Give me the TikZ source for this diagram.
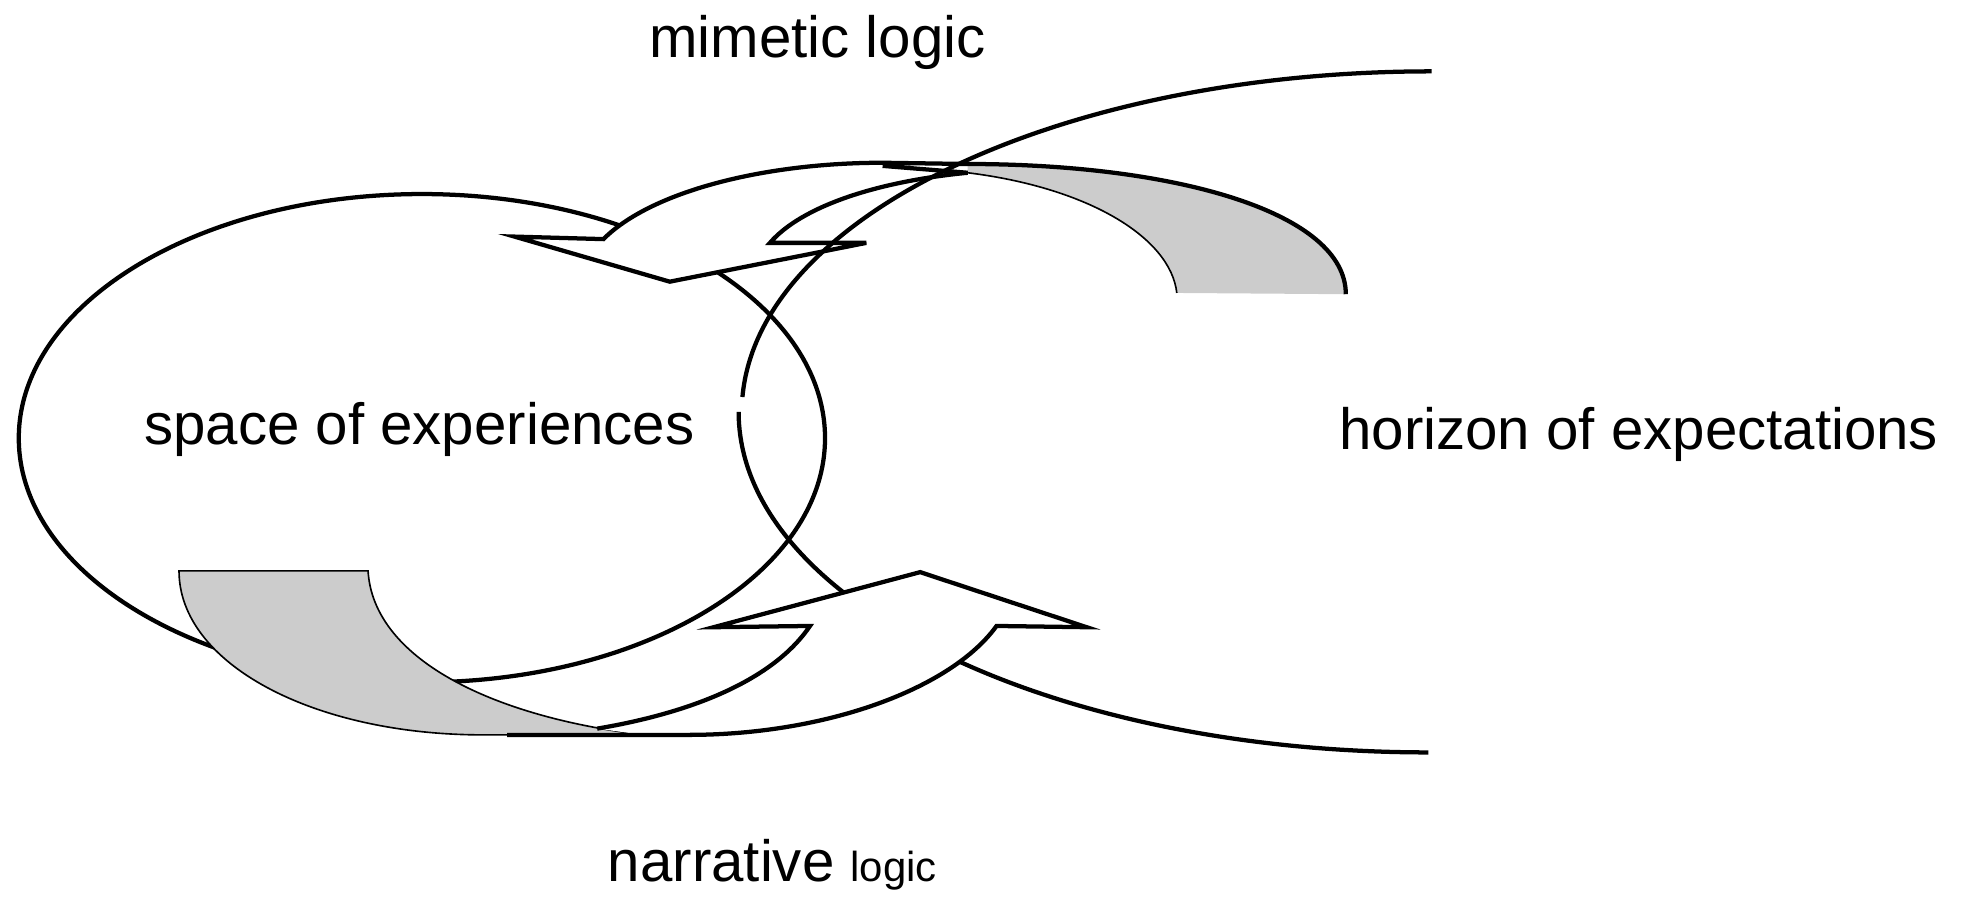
\documentclass[tikz,border=0pt]{standalone}
\usepackage{fontspec}
\setmainfont{Liberation Sans}
\definecolor{bandgrey}{RGB}{204,204,204}
\begin{document}
\begin{tikzpicture}[x=1pt,y=-1pt,
  thk/.style={line width=3.4pt, line join=miter, line cap=butt},
  thn/.style={line width=1.3pt},
  lbl/.style={anchor=base, inner sep=0pt, font=\fontsize{46.5}{56}\selectfont},
]
\useasboundingbox (0,0) rectangle (1568,717);

% space of experiences ellipse
\draw[thk] (337,350) ellipse [x radius=322, y radius=195];

% upper (mimetic) arrow
\coordinate (uN) at (482,191);
\coordinate (uT) at (705,130);
\coordinate (uC) at (773,138);
\coordinate (uCut) at (705,132.5);
\coordinate (uI) at (615,194);
\coordinate (uR) at (692,194);
\coordinate (uA) at (535,225);
\coordinate (uL) at (411,189);
\coordinate (gO) at (773,131);
\coordinate (gR) at (1075,235);
\coordinate (gB) at (940,234);
\fill[white] (uN) .. controls (520,153) and (610,130) .. (uT) -- (uC)
  .. controls (700,145) and (640,165) .. (uI) -- (uR) -- (uA) -- (uL) -- cycle;
\fill[bandgrey] (gO) .. controls (940,131) and (1075,170) .. (gR) -- (gB)
  .. controls (935,190) and (870,150) .. (uC) -- cycle;
\draw[thn] (gB) .. controls (935,190) and (870,150) .. (uC);
\draw[thk] (gR) .. controls (1075,170) and (940,131) .. (gO) -- (uT)
  .. controls (610,130) and (520,153) .. (uN) -- (uL) -- (uA) -- (uR) -- (uI)
  .. controls (640,165) and (700,145) .. (uC) -- (uCut);

% horizon of expectations curve
\draw[thk] (1143.5,57) arc[start angle=270, end angle=182.5, x radius=551, y radius=272];
\draw[thk] (590,329) arc[start angle=180, end angle=90, x radius=551, y radius=272];

% lower (narrative) arrow
\coordinate (lgTL) at (143,456);
\coordinate (lgTR) at (294,456);
\coordinate (lgB) at (386,587);
\coordinate (lgTip) at (514,587);
\filldraw[fill=bandgrey, thn] (lgTL) -- (lgTR) .. controls (298,525) and (390,572) .. (lgTip)
  -- (lgB) .. controls (250,587) and (143,530) .. (lgTL) -- cycle;
\coordinate (lL) at (570,501);
\coordinate (lA) at (735,457);
\coordinate (lR) at (868,501);
\coordinate (lON) at (796,500);
\coordinate (lIN) at (647,500);
\coordinate (lIE) at (477,582);
\coordinate (lOE) at (550,587);
\coordinate (lEnd) at (405,587);
\fill[white] (lIE) .. controls (560,568) and (620,540) .. (lIN) -- (lL) -- (lA) -- (lR) -- (lON)
  .. controls (760,550) and (660,587) .. (lOE) -- (lgTip) -- cycle;
\draw[thk] (lIE) .. controls (560,568) and (620,540) .. (lIN) -- (lL) -- (lA) -- (lR) -- (lON)
  .. controls (760,550) and (660,587) .. (lOE) -- (lEnd);

% labels
\node[lbl] (mim) at (653,46) {mimetic logic};
\node[lbl] (soe) at (335,355) {space of experiences};
\node[lbl] (hoe) at (1309,359) {horizon of expectations};
\node[lbl] (nar) at (617,704) {narrative {\fontsize{33.5}{40}\selectfont logic}};
\end{tikzpicture}
\end{document}
